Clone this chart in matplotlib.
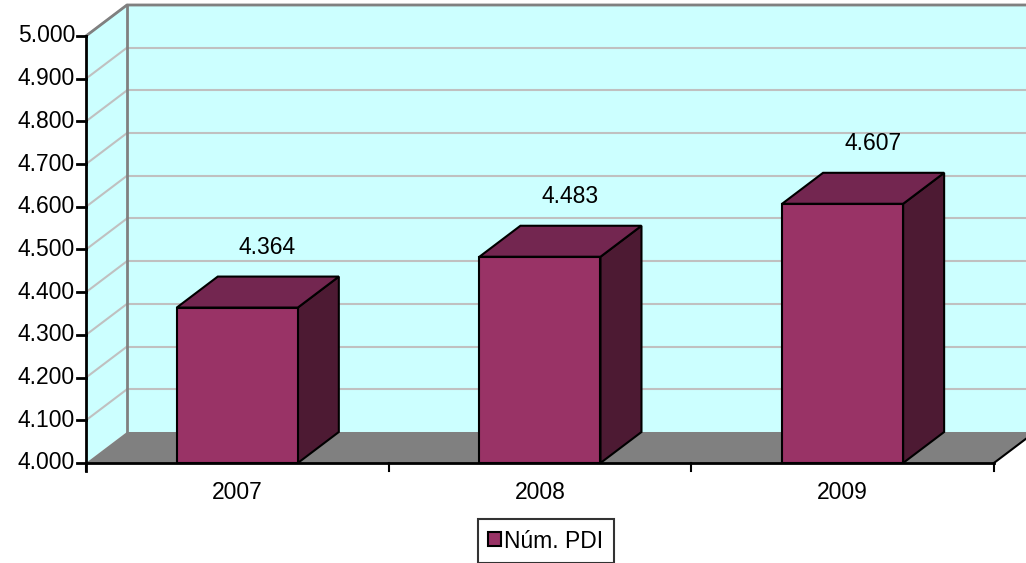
import matplotlib
matplotlib.use("Agg")
import matplotlib.pyplot as plt
from matplotlib.patches import Polygon, Patch

plt.rcParams["font.family"] = ["Liberation Sans", "DejaVu Sans"]

anos = ["2007", "2008", "2009"]
valores = [4364, 4483, 4607]
rotulos = ["4.364", "4.483", "4.607"]
y_ticks = [4000, 4100, 4200, 4300, 4400, 4500, 4600, 4700, 4800, 4900, 5000]
y_labels = ["4.000", "4.100", "4.200", "4.300", "4.400", "4.500", "4.600",
            "4.700", "4.800", "4.900", "5.000"]
serie = "Núm. PDI"

# cores estilo Excel
COR_FRENTE = "#993366"
COR_TOPO = "#732650"
COR_LADO = "#4d1a33"
COR_PAREDE = "#ccffff"
COR_CHAO = "#808080"
COR_GRADE = "#c0c0c0"

Y0, Y1 = 4000, 5000
DX, DY = 0.1355, 72.6   # deslocamento de profundidade
LARG = 0.4
FS = 16.5

fig = plt.figure(figsize=(10.26, 5.63), dpi=100)
ax = fig.add_axes([0, 0, 1, 1])
ax.set_xlim(-0.284, 3.106)
ax.set_ylim(3765.8, 5084.3)
ax.axis("off")

n = len(anos)

# parede lateral esquerda
ax.add_patch(Polygon([(0, Y0), (DX, Y0 + DY), (DX, Y1 + DY), (0, Y1)],
                     closed=True, facecolor=COR_PAREDE, edgecolor="none", zorder=1))
# parede do fundo
ax.add_patch(Polygon([(DX, Y0 + DY), (n + DX + 0.3, Y0 + DY), (n + DX + 0.3, Y1 + DY), (DX, Y1 + DY)],
                     closed=True, facecolor=COR_PAREDE, edgecolor="none", zorder=1))

# linhas de grade
for v in y_ticks[1:]:
    ax.plot([DX, n + DX + 0.3], [v + DY, v + DY], color=COR_GRADE, lw=1.5, zorder=2)
    ax.plot([0, DX], [v, v + DY], color=COR_GRADE, lw=1.5, zorder=2)

# bordas das paredes
ax.plot([0, DX, n + DX + 0.3], [Y1, Y1 + DY, Y1 + DY], color="#808080", lw=2, zorder=3)
ax.plot([DX, DX], [Y0 + DY, Y1 + DY], color="#808080", lw=2, zorder=3)

# chao
ax.add_patch(Polygon([(0, Y0), (n, Y0), (n + DX, Y0 + DY), (DX, Y0 + DY)],
                     closed=True, facecolor=COR_CHAO, edgecolor="none", zorder=3))
ax.plot([n, n + DX + 0.05], [Y0, Y0 + DY * (1 + 0.05 / DX)], color="black", lw=1.5, zorder=4)

# barras
for i, v in enumerate(valores):
    c = i + 0.5
    esq, dir_ = c - LARG / 2, c + LARG / 2
    ax.add_patch(Polygon([(dir_, Y0), (dir_ + DX, Y0 + DY), (dir_ + DX, v + DY), (dir_, v)],
                         closed=True, facecolor=COR_LADO, edgecolor="black", lw=1.5, zorder=5))
    ax.add_patch(Polygon([(esq, v), (dir_, v), (dir_ + DX, v + DY), (esq + DX, v + DY)],
                         closed=True, facecolor=COR_TOPO, edgecolor="black", lw=1.5, zorder=5))
    ax.add_patch(Polygon([(esq, Y0), (dir_, Y0), (dir_, v), (esq, v)],
                         closed=True, facecolor=COR_FRENTE, edgecolor="black", lw=1.5, zorder=6))
    ax.text(c + 0.1, v + DY + 68, rotulos[i], ha="center", va="center", fontsize=FS, zorder=7)
    ax.text(c, 3932, anos[i], ha="center", va="center", fontsize=FS)

# eixos
ax.plot([0, 0], [Y0 - 19, Y1], color="black", lw=2, zorder=7)
ax.plot([0, n], [Y0, Y0], color="black", lw=2, zorder=7)
for v, lab in zip(y_ticks, y_labels):
    ax.plot([-0.03, 0], [v, v], color="black", lw=2, zorder=7)
    ax.text(-0.036, v, lab, ha="right", va="center", fontsize=FS)
for k in range(n + 1):
    ax.plot([k, k], [Y0, Y0 - 19], color="black", lw=1.5, zorder=7)

leg = fig.legend(handles=[Patch(facecolor=COR_FRENTE, edgecolor="black", lw=1.5, label=serie)],
                 loc="center", bbox_to_anchor=(546 / 1026, 1 - 541 / 563),
                 fontsize=FS, frameon=True, fancybox=False, edgecolor="black",
                 handlelength=0.55, handleheight=0.55, handletextpad=0.15,
                 borderpad=0.45, borderaxespad=0)
leg.get_frame().set_linewidth(1.5)

fig.savefig("out.png", dpi=100)
